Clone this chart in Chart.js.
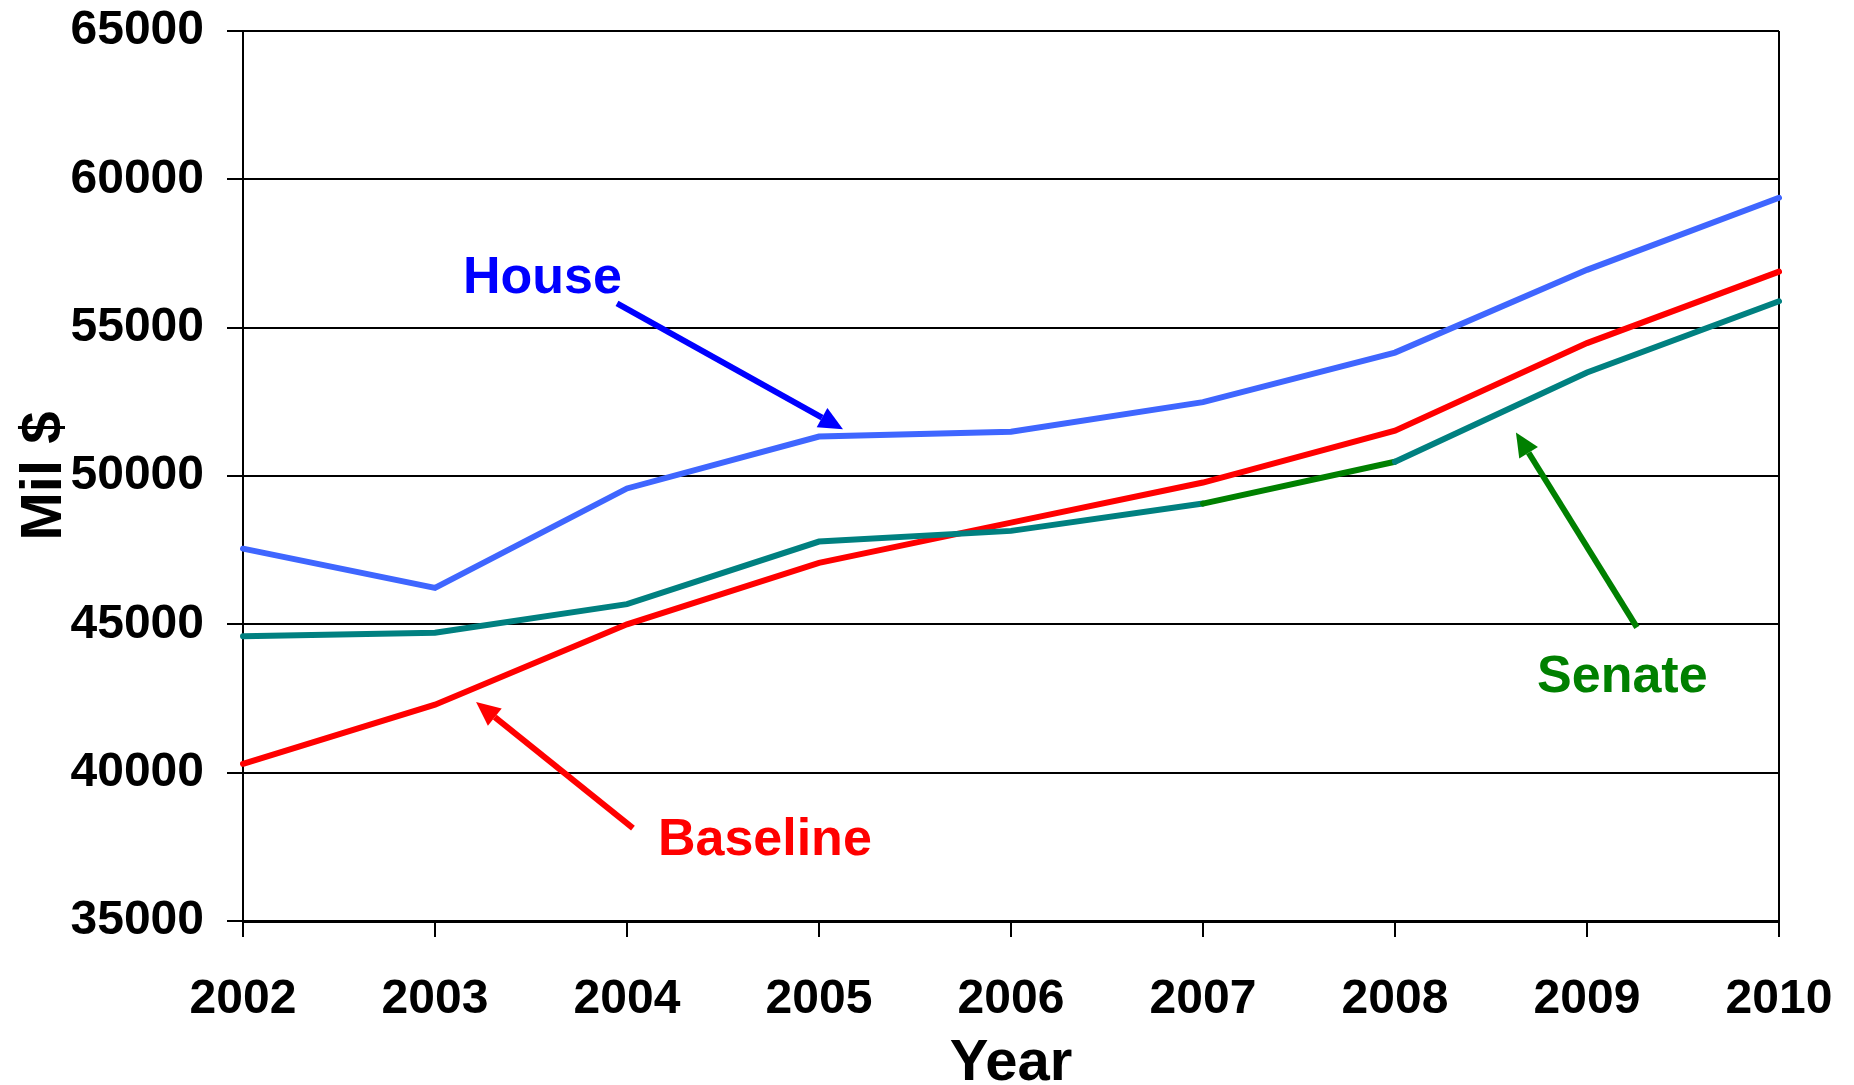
<!DOCTYPE html>
<html>
<head>
<meta charset="UTF-8">
<title>Mil $ by Year</title>
<script src="https://cdn.jsdelivr.net/npm/chart.js"></script>
<style>
  html, body { margin: 0; padding: 0; background: #fff; }
  #wrap { width: 1854px; height: 1085px; }
</style>
</head>
<body>
<div id="wrap"><canvas id="chart"></canvas></div>
<script>
// data
const years = ['2002', '2003', '2004', '2005', '2006', '2007', '2008', '2009', '2010'];
const house = [47550, 46230, 49580, 51330, 51490, 52490, 54160, 56950, 59380];
const senate = [44600, 44720, 45680, 47790, 48150, 49070, 50480, 53490, 55890];
const baseline = [40300, 42290, 45000, 47070, 48430, 49780, 51530, 54480, 56890];
const yTicks = [35000, 40000, 45000, 50000, 55000, 60000, 65000];

// labels + arrows, placed in data space (x = year index, y = value)
const notes = [
  { text: 'House', color: '#0000FF', x: 1.146, y: 56160, from: [1.948, 55820], to: [3.125, 51575] },
  { text: 'Baseline', color: '#FF0000', x: 2.161, y: 37220, from: [2.031, 38130], to: [1.214, 42380] },
  { text: 'Senate', color: '#008000', x: 6.74, y: 42710, from: [7.26, 44900], to: [6.63, 51470] }
];

const FONT = '"Liberation Sans", Arial, sans-serif';

const notePlugin = {
  id: 'notes',
  afterDatasetsDraw(chart) {
    const ctx = chart.ctx;
    const xs = chart.scales.x, ys = chart.scales.y;
    ctx.save();
    notes.forEach(n => {
      ctx.fillStyle = n.color;
      ctx.strokeStyle = n.color;
      ctx.font = 'bold 52px ' + FONT;
      ctx.textAlign = 'left';
      ctx.textBaseline = 'alphabetic';
      ctx.fillText(n.text, xs.getPixelForValue(n.x), ys.getPixelForValue(n.y));

      const x1 = xs.getPixelForValue(n.from[0]), y1 = ys.getPixelForValue(n.from[1]);
      const x2 = xs.getPixelForValue(n.to[0]), y2 = ys.getPixelForValue(n.to[1]);
      const ang = Math.atan2(y2 - y1, x2 - x1);
      const head = 24, half = 11;
      const bx = x2 - head * Math.cos(ang), by = y2 - head * Math.sin(ang);
      ctx.lineWidth = 6;
      ctx.lineCap = 'butt';
      ctx.beginPath();
      ctx.moveTo(x1, y1);
      ctx.lineTo(bx, by);
      ctx.stroke();
      ctx.beginPath();
      ctx.moveTo(x2, y2);
      ctx.lineTo(bx + half * Math.sin(ang), by - half * Math.cos(ang));
      ctx.lineTo(bx - half * Math.sin(ang), by + half * Math.cos(ang));
      ctx.closePath();
      ctx.fill();
    });
    ctx.restore();
  }
};

new Chart(document.getElementById('chart'), {
  type: 'line',
  data: {
    labels: years,
    datasets: [
      {
        label: 'House',
        data: house,
        borderColor: '#3F66FF',
        borderWidth: 6,
        borderCapStyle: 'round',
        pointRadius: 0,
        tension: 0
      },
      {
        label: 'Senate',
        data: senate,
        borderColor: '#008080',
        borderWidth: 6,
        borderCapStyle: 'round',
        pointRadius: 0,
        tension: 0,
        segment: {
          borderColor: c => (c.p0DataIndex === 5 ? '#008000' : '#008080')
        }
      },
      {
        label: 'Baseline',
        data: baseline,
        borderColor: '#FF0000',
        borderWidth: 6,
        borderCapStyle: 'round',
        pointRadius: 0,
        tension: 0
      }
    ]
  },
  options: {
    responsive: true,
    maintainAspectRatio: false,
    animation: false,
    layout: { padding: { top: 31, right: 75, left: 0, bottom: 0 } },
    plugins: {
      legend: { display: false },
      tooltip: { enabled: false }
    },
    scales: {
      x: {
        type: 'category',
        offset: false,
        grid: {
          display: true,
          drawOnChartArea: true,
          color: c => (c.index === years.length - 1 ? '#000' : 'rgba(0,0,0,0)'),
          tickColor: '#000',
          lineWidth: 2,
          tickWidth: 2,
          tickLength: 16
        },
        border: { display: true, color: '#000', width: 3 },
        ticks: {
          color: '#000',
          font: { family: FONT, size: 48, weight: 'bold' },
          padding: 34,
          maxRotation: 0,
          autoSkip: false
        },
        title: {
          display: true,
          text: 'Year',
          color: '#000',
          font: { family: FONT, size: 58, weight: 'bold', lineHeight: 0.93 },
          padding: { top: 0, bottom: -6 }
        },
        afterFit: s => { s.height = 164; s.paddingLeft = 0; s.paddingRight = 0; }
      },
      y: {
        min: 35000,
        max: 65000,
        afterBuildTicks: s => { s.ticks = yTicks.map(v => ({ value: v })); },
        grid: {
          color: '#000',
          lineWidth: 2,
          tickLength: 16,
          tickColor: '#000'
        },
        border: { display: true, color: '#000', width: 2 },
        ticks: {
          color: '#000',
          font: { family: FONT, size: 48, weight: 'bold' },
          padding: 23,
          callback: v => String(v)
        },
        title: {
          display: true,
          text: 'Mil $',
          color: '#000',
          font: { family: FONT, size: 58, weight: 'bold', lineHeight: 1.2 },
          padding: { top: 10, bottom: 0 }
        },
        afterFit: s => { s.width = 243; s.paddingTop = 0; s.paddingBottom = 0; }
      }
    }
  },
  plugins: [notePlugin]
});
</script>
</body>
</html>
